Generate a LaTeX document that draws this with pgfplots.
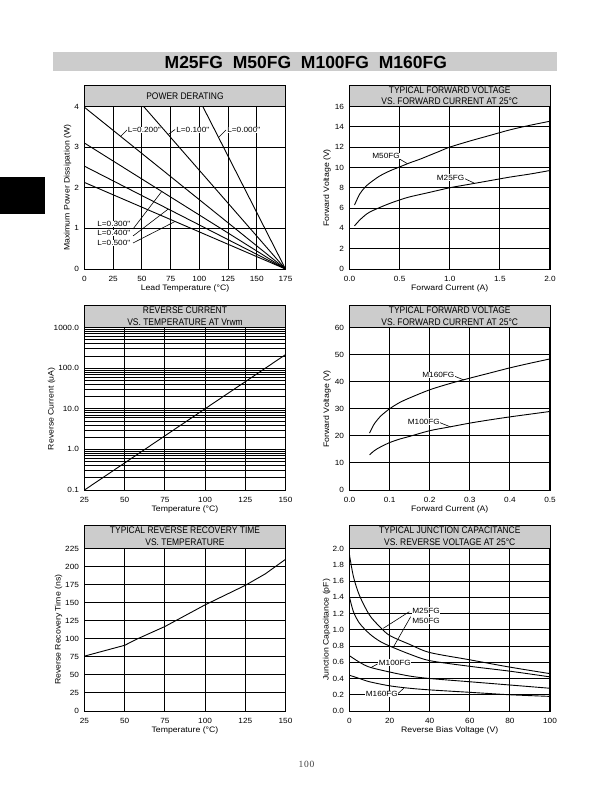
\documentclass[border=0pt]{standalone}
\usepackage{pgfplots}
\pgfplotsset{compat=1.18}
\usepackage{fontspec}
\setmainfont{Liberation Sans}
\newfontfamily\tickf[FakeStretch=1.1]{Liberation Sans}
\newfontfamily\titf[FakeStretch=0.88]{Liberation Sans}
\newfontfamily\serf[LetterSpace=8]{Liberation Serif}
\definecolor{boxgray}{RGB}{204,204,204}
\newcommand{\tk}{\tickf\fontsize{7.5}{8}\selectfont}
\newcommand{\lb}{\tickf\fontsize{7.9}{8}\selectfont}
\newcommand{\ttl}{\titf\fontsize{9.6}{10}\selectfont}
\pgfplotsset{
 ds/.style={
  scale only axis, height=162.5pt, anchor=south west,
  /pgf/number format/assume math mode=true,
  axis line style={line width=0.9pt},
  xmajorgrids, ymajorgrids,
  major grid style={black,line width=1pt},
  major tick length=0pt, minor tick length=0pt,
  ticklabel style={font=\tk},
  yticklabel style={xshift=-2pt},
  xticklabel style={yshift=-4pt},
  every axis x label/.style={at={(axis description cs:0.5,0)},anchor=center,yshift=-19.5pt,font=\lb},
 },
 ylab/.style={every axis y label/.style={at={([xshift=-#1]axis description cs:0,0.5)},rotate=90,anchor=center,font=\lb}},
 crv/.style={black,line width=0.9pt,mark=none},
}
\begin{document}
\begin{tikzpicture}
\fill[white] (0,0) rectangle (612pt,-792pt);
\useasboundingbox (0,0) rectangle (612pt,-792pt);

% ---------- Plot 1: Power derating
\begin{axis}[ds, at={(84.5pt,-269pt)}, width=201pt, ylab=17pt,
  xmin=0, xmax=175, ymin=0, ymax=4,
  xtick={0,25,...,175}, ytick={0,1,2,3,4},
  xlabel={Lead Temperature (°C)}, ylabel={Maximum Power Dissipation (W)}]
\addplot[crv] coordinates {(103,4) (175,0)};
\addplot[crv] coordinates {(51.5,4) (175,0)};
\addplot[crv] coordinates {(0,3.98) (175,0)};
\addplot[crv] coordinates {(0,3.1) (175,0)};
\addplot[crv] coordinates {(0,2.53) (175,0)};
\addplot[crv] coordinates {(0,2.13) (175,0)};
\end{axis}

% ---------- Plot 2: Forward voltage M25/M50
\begin{axis}[ds, at={(349.5pt,-269pt)}, width=200.5pt, ylab=22.5pt,
  xmin=0, xmax=2, ymin=0, ymax=16,
  xtick={0,0.5,1,1.5,2}, xticklabels={0.0,0.5,1.0,1.5,2.0},
  ytick={0,2,...,16},
  xlabel={Forward Current (A)}, ylabel={Forward Voltage (V)}]
\addplot[crv,smooth] coordinates {(0.05,6.3) (0.1,7.35) (0.15,8.0) (0.2,8.45) (0.3,9.15) (0.4,9.65) (0.5,10.05) (0.6,10.45) (0.7,10.8) (0.8,11.2) (0.9,11.6) (1.0,12.0) (1.2,12.6) (1.4,13.15) (1.6,13.7) (1.8,14.15) (2.0,14.55)};
\addplot[crv,smooth] coordinates {(0.05,4.25) (0.1,4.8) (0.15,5.25) (0.2,5.6) (0.3,6.05) (0.4,6.45) (0.5,6.8) (0.6,7.1) (0.8,7.55) (1.0,8.0) (1.2,8.35) (1.4,8.7) (1.6,9.05) (1.8,9.35) (2.0,9.7)};
\end{axis}

% ---------- Plot 3: Reverse current (log)
\begin{axis}[ds, at={(84.5pt,-490pt)}, width=201pt, ylab=33pt,
  ymode=log, xmin=25, xmax=150, ymin=0.1, ymax=1000,
  xtick={25,50,...,150},
  ytick={0.1,1,10,100,1000}, yticklabels={0.1,1.0,10.0,100.0,1000.0},
  minor ytick={0.2,0.3,0.4,0.5,0.6,0.7,0.8,0.9,2,3,4,5,6,7,8,9,20,30,40,50,60,70,80,90,200,300,400,500,600,700,800,900},
  yminorgrids, minor grid style={black,line width=0.6pt},
  xlabel={Temperature (°C)}, ylabel={Reverse Current (uA)}]
\addplot[crv] coordinates {(25,0.1) (100,10) (150,215)};
\end{axis}

% ---------- Plot 4: Forward voltage M100/M160
\begin{axis}[ds, at={(349.5pt,-490pt)}, width=200.5pt, ylab=22.5pt,
  xmin=0, xmax=0.5, ymin=0, ymax=60,
  xtick={0,0.1,0.2,0.3,0.4,0.5}, xticklabels={0.0,0.1,0.2,0.3,0.4,0.5},
  ytick={0,10,...,60},
  xlabel={Forward Current (A)}, ylabel={Forward Voltage (V)}]
\addplot[crv,smooth] coordinates {(0.05,21.0) (0.06,24.0) (0.07,26.0) (0.08,27.6) (0.1,30.0) (0.125,32.3) (0.15,34.0) (0.2,37.0) (0.25,39.3) (0.3,41.3) (0.35,43.2) (0.4,45.1) (0.45,46.8) (0.5,48.4)};
\addplot[crv,smooth] coordinates {(0.05,13.0) (0.06,14.3) (0.07,15.3) (0.08,16.1) (0.1,17.5) (0.125,18.8) (0.15,19.8) (0.2,21.9) (0.25,23.3) (0.3,24.7) (0.35,25.9) (0.4,27.0) (0.45,28.0) (0.5,29.0)};
\end{axis}

% ---------- Plot 5: Reverse recovery time
\begin{axis}[ds, at={(84.5pt,-711pt)}, width=201pt, ylab=26pt,
  xmin=25, xmax=150, ymin=0, ymax=225,
  xtick={25,50,...,150}, ytick={0,25,...,225},
  xlabel={Temperature (°C)}, ylabel={Reverse Recovery Time (ns)}]
\addplot[crv] coordinates {(25,76) (50,91) (58,100) (75,117) (100,147) (125,174) (137.5,190) (150,210)};
\end{axis}

% ---------- Plot 6: Junction capacitance
\begin{axis}[ds, at={(349.5pt,-711pt)}, width=200.5pt, ylab=23pt,
  xmin=0, xmax=100, ymin=0, ymax=2,
  xtick={0,20,...,100}, ytick={0,0.2,...,2.01},
  yticklabels={0.0,0.2,0.4,0.6,0.8,1.0,1.2,1.4,1.6,1.8,2.0},
  xlabel={Reverse Bias Voltage (V)}, ylabel={Junction Capacitance (pF)}]
\addplot[crv,smooth] coordinates {(0,1.92) (2,1.65) (5,1.42) (10,1.18) (15,1.04) (20,0.93) (30,0.82) (40,0.72) (60,0.63) (80,0.54) (100,0.46)};
\addplot[crv,smooth] coordinates {(0,1.40) (2,1.22) (5,1.08) (10,0.95) (15,0.86) (20,0.80) (30,0.70) (40,0.62) (60,0.55) (80,0.49) (100,0.42)};
\addplot[crv,smooth] coordinates {(0,0.68) (5,0.60) (10,0.54) (20,0.48) (30,0.43) (40,0.40) (60,0.36) (80,0.32) (100,0.28)};
\addplot[crv,smooth] coordinates {(0,0.44) (5,0.40) (10,0.36) (20,0.31) (30,0.28) (40,0.26) (60,0.23) (80,0.20) (100,0.18)};
\end{axis}

\begin{scope}[x=1pt,y=-1pt]
% header bar and tab
\fill[boxgray] (53,52.5) rectangle (557,71);
\node[font=\bfseries\fontsize{17.5}{18}\selectfont, anchor=base] at (305.8,68.3) {M25FG\hspace{0.56em}M50FG\hspace{0.56em}M100FG\hspace{0.56em}M160FG};
\fill[black] (0,176.7) rectangle (45,214);
\node[font=\serf\fontsize{9.5}{10}\selectfont, text=black!75, anchor=base] at (306.5,767) {100};

% right thick borders
\foreach \xr/\yt/\yb in {285.5/106.5/269, 550/106.5/269, 285.5/327.5/490, 550/327.5/490, 285.5/548.5/711, 550/548.5/711}
  \draw[line width=1.8pt] (\xr,\yt) -- (\xr,\yb);

% title boxes
\draw[line width=0.8pt, fill=boxgray] (84.5,85) rectangle (285.5,106.5);
\node[font=\ttl, anchor=base] at (185,99) {POWER DERATING};
\draw[line width=0.8pt, fill=boxgray] (349.5,85) rectangle (550,106.5);
\node[font=\ttl, anchor=base] at (449.75,93.3) {TYPICAL FORWARD VOLTAGE};
\node[font=\ttl, anchor=base] at (449.75,104) {VS. FORWARD CURRENT AT 25°C};
\draw[line width=0.8pt, fill=boxgray] (84.5,305) rectangle (285.5,327.5);
\node[font=\ttl, anchor=base] at (185,313) {REVERSE CURRENT};
\node[font=\ttl, anchor=base] at (185,325) {VS. TEMPERATURE AT Vrwm};
\draw[line width=0.8pt, fill=boxgray] (349.5,305) rectangle (550,327.5);
\node[font=\ttl, anchor=base] at (449.75,313) {TYPICAL FORWARD VOLTAGE};
\node[font=\ttl, anchor=base] at (449.75,325) {VS. FORWARD CURRENT AT 25°C};
\draw[line width=0.8pt, fill=boxgray] (84.5,525.5) rectangle (285.5,548.5);
\node[font=\ttl, anchor=base] at (185,533) {TYPICAL REVERSE RECOVERY TIME};
\node[font=\ttl, anchor=base] at (185,545.5) {VS. TEMPERATURE};
\draw[line width=0.8pt, fill=boxgray] (349.5,525.5) rectangle (550,548.5);
\node[font=\ttl, anchor=base] at (449.75,533) {TYPICAL JUNCTION CAPACITANCE};
\node[font=\ttl, anchor=base] at (449.75,545.5) {VS. REVERSE VOLTAGE AT 25°C};

% plot 1 annotations
\tikzset{lab/.style={font=\tk, fill=white, inner sep=0.6pt, anchor=west}}
\draw[line width=0.6pt] (121,136) -- (127,130);
\node[lab] at (127,130) {L=0.200"};
\draw[line width=0.6pt] (168.3,134.5) -- (175,129.5);
\node[lab] at (175.5,130) {L=0.100"};
\draw[line width=0.6pt] (218.5,137.5) -- (226,130);
\node[lab] at (226.5,130) {L=0.000"};
\draw[line width=0.6pt] (133,229) -- (161.7,191.5);
\draw[line width=0.6pt] (133,236) -- (168.3,209);
\draw[line width=0.6pt] (133,243) -- (175,221.5);
\node[lab] at (96.5,224) {L=0.300"};
\node[lab] at (96.5,233) {L=0.400"};
\node[lab] at (96.5,243) {L=0.500"};

% plot 2 annotations
\draw[line width=0.6pt] (400,159.3) -- (407.5,163.7);
\node[lab] at (371.5,156) {M50FG};
\draw[line width=0.6pt] (463.3,178) -- (474,183);
\node[lab] at (436,177.7) {M25FG};

% plot 4 annotations
\draw[line width=0.6pt] (454,376) -- (464,380);
\node[lab] at (421.5,375) {M160FG};
\draw[line width=0.6pt] (440,422.7) -- (450.7,427);
\node[lab] at (407,421.7) {M100FG};

% plot 6 annotations
\draw[line width=0.6pt] (409.3,611.7) -- (383.3,628.3);
\draw[line width=0.6pt] (410.7,616.7) -- (394,646);
\node[lab] at (411.5,610.7) {M25FG};
\node[lab] at (411.5,620.7) {M50FG};
\draw[line width=0.6pt] (377.5,664) -- (371,667.5);
\node[lab] at (378,662.7) {M100FG};
\draw[line width=0.6pt] (397.5,694) -- (404,688);
\node[lab] at (365,694) {M160FG};
\end{scope}
\end{tikzpicture}
\end{document}
